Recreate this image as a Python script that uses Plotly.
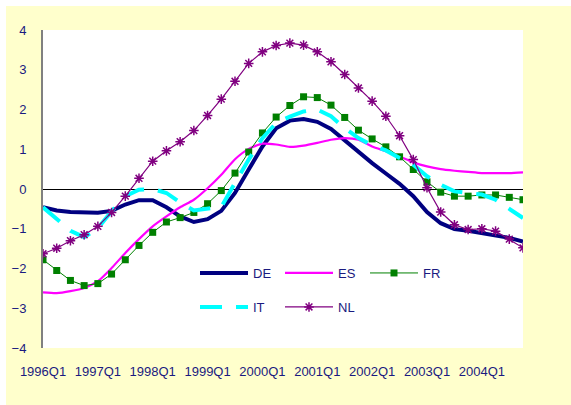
import plotly.graph_objects as go

quarters = [f"{y}Q{q}" for y in range(1996, 2005) for q in range(1, 5)]
tick_labels = [f"{y}Q1" for y in range(1996, 2005)]

de = [-0.46, -0.54, -0.58, -0.59, -0.60, -0.55, -0.39, -0.28, -0.28, -0.46, -0.69, -0.83,
      -0.76, -0.55, -0.10, 0.49, 1.07, 1.53, 1.72, 1.76, 1.69, 1.51, 1.22, 0.92,
      0.65, 0.39, 0.13, -0.18, -0.58, -0.86, -1.01, -1.05, -1.11, -1.17, -1.23, -1.32]
es = [-2.60, -2.62, -2.57, -2.49, -2.32, -1.99, -1.61, -1.26, -0.94, -0.69, -0.46, -0.27,
      0.02, 0.36, 0.75, 1.01, 1.14, 1.12, 1.06, 1.09, 1.16, 1.24, 1.28, 1.24,
      1.07, 0.95, 0.82, 0.67, 0.57, 0.50, 0.46, 0.43, 0.40, 0.40, 0.40, 0.42]
fr = [-1.78, -2.05, -2.30, -2.43, -2.38, -2.14, -1.78, -1.42, -1.09, -0.83, -0.72, -0.59,
      -0.37, -0.04, 0.40, 0.93, 1.41, 1.81, 2.10, 2.32, 2.30, 2.11, 1.80, 1.48,
      1.26, 1.06, 0.81, 0.49, 0.18, -0.08, -0.18, -0.18, -0.15, -0.15, -0.21, -0.27]
it = [-0.46, -0.77, -1.05, -1.21, -0.99, -0.56, -0.18, -0.02, 0.00, -0.10, -0.34, -0.54,
      -0.50, -0.45, 0.15, 0.74, 1.28, 1.66, 1.82, 1.95, 2.00, 1.83, 1.53, 1.28,
      1.10, 0.97, 0.78, 0.61, 0.32, 0.11, -0.06, -0.10, -0.14, -0.27, -0.50, -0.73]
nl = [-1.63, -1.49, -1.30, -1.15, -0.94, -0.59, -0.18, 0.27, 0.70, 0.96, 1.19, 1.47,
      1.85, 2.26, 2.71, 3.16, 3.45, 3.61, 3.67, 3.62, 3.45, 3.20, 2.88, 2.54,
      2.21, 1.83, 1.34, 0.74, 0.03, -0.58, -0.90, -1.02, -1.00, -1.06, -1.26, -1.48]

TXT = "#1a1a80"
FONT = "Liberation Sans, Arial, sans-serif"

fig = go.Figure()
fig.add_trace(go.Scatter(x=quarters, y=de, name="DE", mode="lines",
                         line=dict(color="#000080", width=4), legend="legend"))
fig.add_trace(go.Scatter(x=quarters, y=es, name="ES", mode="lines",
                         line=dict(color="#FF00FF", width=2.2, shape="spline", smoothing=0.6),
                         legend="legend"))
fig.add_trace(go.Scatter(x=quarters, y=fr, name="FR", mode="lines+markers",
                         line=dict(color="#008000", width=1),
                         marker=dict(symbol="square", size=7, color="#008000"),
                         legend="legend"))
fig.add_trace(go.Scatter(x=quarters, y=it, name="IT", mode="lines",
                         line=dict(color="#00FFFF", width=4, dash="22px,14px"),
                         legend="legend2"))
fig.add_trace(go.Scatter(x=quarters, y=nl, name="NL", mode="lines+markers",
                         line=dict(color="#800080", width=1.2),
                         marker=dict(symbol="asterisk-open", size=8,
                                     line=dict(color="#800080", width=1.5)),
                         legend="legend2"))

W, H = 571, 405
L, R, T, B = 43, 48, 30, 57
pw = W - L - R
ph = H - T - B

def px_x(p):
    return (p - L) / pw

def px_y(p):
    return (H - B - p) / ph

legend_common = dict(orientation="h", xanchor="left", yanchor="middle",
                     bgcolor="rgba(0,0,0,0)", borderwidth=0,
                     font=dict(family=FONT, size=13, color=TXT),
                     itemwidth=48, entrywidthmode="pixels", entrywidth=22,
                     tracegroupgap=0)

fig.update_layout(
    width=W, height=H,
    margin=dict(l=L, r=R, t=T, b=B),
    paper_bgcolor="#FFFFCC",
    plot_bgcolor="#FFFFFF",
    font=dict(family=FONT, size=13, color=TXT),
    legend=dict(x=px_x(195), y=px_y(273), **legend_common),
    legend2=dict(x=px_x(195), y=px_y(307), **legend_common),
    shapes=[
        dict(type="rect", xref="paper", yref="paper", layer="above",
             x0=px_x(0), x1=px_x(6), y0=px_y(H), y1=px_y(0),
             fillcolor="#FFFFFF", line=dict(width=0)),
        dict(type="rect", xref="paper", yref="paper", layer="above",
             x0=px_x(0), x1=px_x(W), y0=px_y(6), y1=px_y(0),
             fillcolor="#FFFFFF", line=dict(width=0)),
    ],
)

fig.update_xaxes(type="category", categoryorder="array", categoryarray=quarters,
                 range=[0, len(quarters) - 1],
                 tickmode="array", tickvals=tick_labels, ticktext=tick_labels,
                 showgrid=False, showline=False, zeroline=False, ticks="",
                 ticklabelstandoff=14, tickangle=0,
                 tickfont=dict(family=FONT, size=13, color=TXT))
fig.update_yaxes(range=[-4, 4], dtick=1, tick0=0, showgrid=False,
                 showline=True, linecolor="#808080", linewidth=2,
                 zeroline=True, zerolinecolor="#000000", zerolinewidth=1,
                 ticks="", ticklabelstandoff=12,
                 tickfont=dict(family=FONT, size=13, color=TXT))

fig.write_html("out.html", config={"displayModeBar": False},
               post_script="document.body.style.margin='0';")
